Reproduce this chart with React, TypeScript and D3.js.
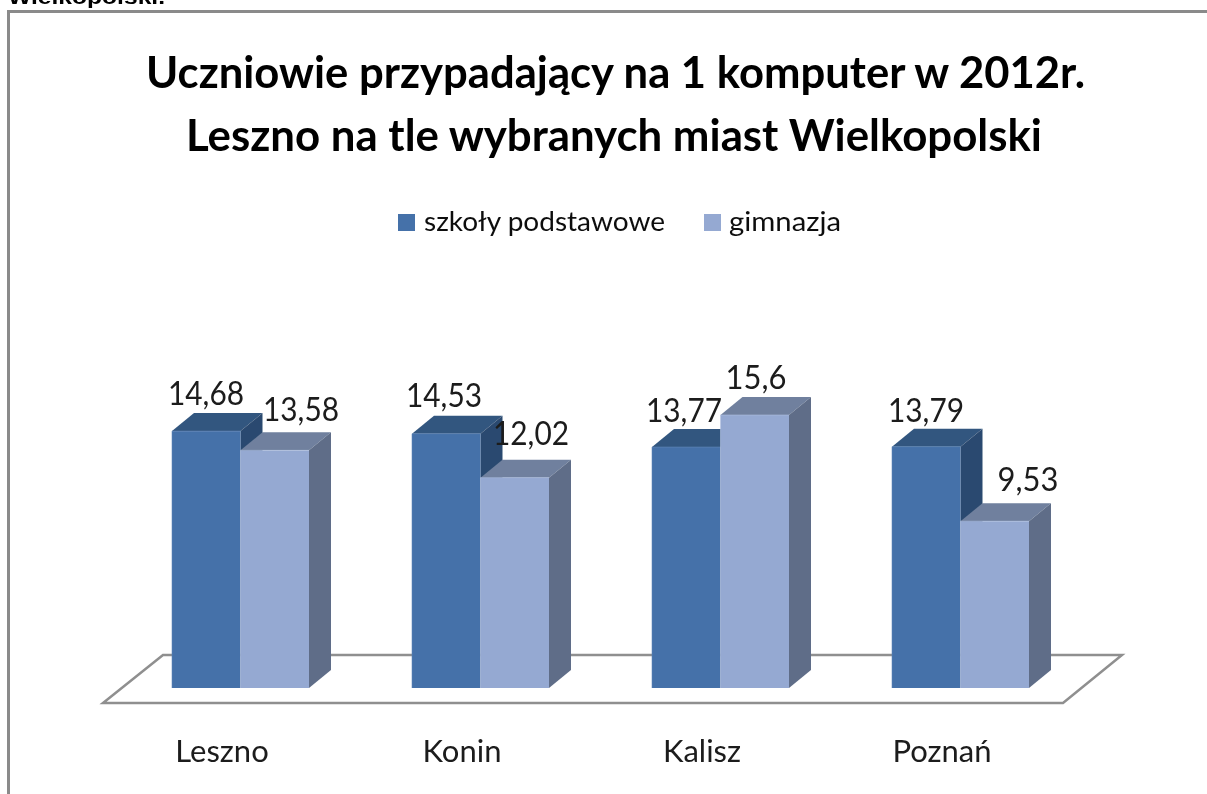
import React from "react";
import * as d3 from "d3";

const categories = ["Leszno", "Konin", "Kalisz", "Poznań"];
const seriesNames = ["szkoły podstawowe", "gimnazja"];
const primary = [14.68, 14.53, 13.77, 13.79];
const secondary = [13.58, 12.02, 15.6, 9.53];
const primaryLabels = ["14,68", "14,53", "13,77", "13,79"];
const secondaryLabels = ["13,58", "12,02", "15,6", "9,53"];
const titleLines = ["Uczniowie przypadający na 1 komputer w 2012r.", "Leszno na tle wybranych miast Wielkopolski"];
const clippedHeading = "Wielkopolski.";

// label placement relative to each bar (layout, not data)
const primaryDx = [34, 32, 32, 34];
const primaryDy = [-26, -27, -25, -25];
const secondaryDx = [129, 119, 104, 136];
const secondaryDy = [-29, -33, -26, -30];

const W = 1207;
const H = 794;
const FONT = "Lato, 'Open Sans', sans-serif";
const depthX = 22;
const depthY = 18;
const base = 688;
const y = d3.scaleLinear().domain([0, 15.6]).range([base, 415]);
const x0 = d3.scaleBand().domain(categories).range([172, 1132]).paddingInner(0).paddingOuter(0);
const barW = 68.5;

const palettes = [
  { front: "#4571a9", top: "#33567f", side: "#2c4a6f", edge: "#5f86b8" },
  { front: "#95a9d2", top: "#6f809e", side: "#5f6d88", edge: "#b5c4e2" },
];

function Bar({ x, value, pal }: { x: number; value: number; pal: (typeof palettes)[number] }) {
  const t = y(value);
  const l = d3.line();
  const r = x + barW;
  return (
    <g>
      <path d={l([[x, t], [x + depthX, t - depthY], [r + depthX, t - depthY], [r, t]]) + "Z"} fill={pal.top} />
      <path d={l([[r, t], [r + depthX, t - depthY], [r + depthX, base - depthY], [r, base]]) + "Z"} fill={pal.side} />
      <rect x={x} y={t} width={barW} height={base - t} fill={pal.front} />
      <path d={l([[x, base], [x, t], [r, t]]) ?? ""} fill="none" stroke={pal.edge} strokeWidth={0.8} opacity={0.7} />
    </g>
  );
}

export default function App() {
  const floor = d3.line()([[103, 703], [1063, 703], [1122, 655], [163, 655]]) + "Z";
  const starts = categories.map((c) => x0(c) as number);
  return (
    <svg width={W} height={H} viewBox={`0 0 ${W} ${H}`} style={{ position: "absolute", left: 0, top: 0, background: "#fff", fontFamily: FONT }}>
      <defs>
        <filter id="soft" x="-5%" y="-5%" width="110%" height="110%">
          <feGaussianBlur stdDeviation="0.55" />
        </filter>
      </defs>
      <g filter="url(#soft)">
        <text x={8} y={4} fontFamily="'Liberation Sans', Arial, sans-serif" fontWeight={700} fontSize={21} fill="#000" textLength={157} lengthAdjust="spacingAndGlyphs">{clippedHeading}</text>
        <path d={`M8.5,${H} V11.5 H${W}`} fill="none" stroke="#8a8a8a" strokeWidth={3} />

        {titleLines.map((t, i) => (
          <text key={t} x={i === 0 ? 615.5 : 614} y={i === 0 ? 88 : 151} textAnchor="middle" fontSize={43} fontWeight={700} fill="#000"
            textLength={i === 0 ? 939 : 856} lengthAdjust="spacingAndGlyphs">{t}</text>
        ))}

        <rect x={398} y={214} width={17} height={17} fill={palettes[0].front} />
        <text x={424} y={231} fontSize={27} fill="#111" textLength={241} lengthAdjust="spacingAndGlyphs">{seriesNames[0]}</text>
        <rect x={704} y={214} width={17} height={17} fill={palettes[1].front} />
        <text x={729} y={231} fontSize={27} fill="#111" textLength={112} lengthAdjust="spacingAndGlyphs">{seriesNames[1]}</text>

        <path d={floor} fill="#fff" stroke="#8f8f8f" strokeWidth={2.5} />

        {categories.map((c, i) => (
          <g key={c}>
            <Bar x={starts[i]} value={primary[i]} pal={palettes[0]} />
            <Bar x={starts[i] + barW} value={secondary[i]} pal={palettes[1]} />
          </g>
        ))}

        {categories.map((c, i) => (
          <g key={c} fontSize={32} fill="#1a1a1a" textAnchor="middle">
            <text x={starts[i] + primaryDx[i]} y={y(primary[i]) + primaryDy[i]} textLength={76} lengthAdjust="spacingAndGlyphs">{primaryLabels[i]}</text>
            <text x={starts[i] + secondaryDx[i]} y={y(secondary[i]) + secondaryDy[i]} textLength={secondaryLabels[i].length * 15.2} lengthAdjust="spacingAndGlyphs">{secondaryLabels[i]}</text>
            <text x={starts[i] + 50} y={762} fontSize={31}>{c}</text>
          </g>
        ))}
      </g>
    </svg>
  );
}
